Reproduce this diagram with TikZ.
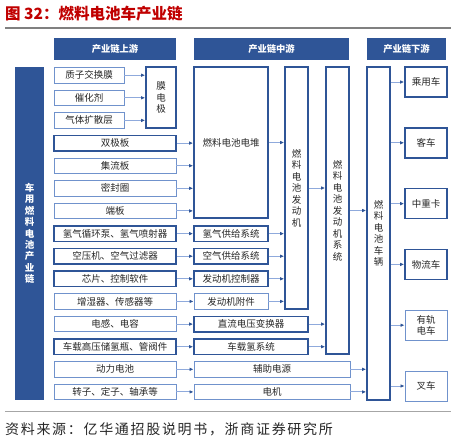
\documentclass[tikz,border=0pt]{standalone}
\usepackage{fontspec}
\setmainfont{Noto Sans CJK SC}
\usepackage{xcolor}
\usepackage{tikz}
\usetikzlibrary{arrows.meta,positioning}

\definecolor{chainblue}{RGB}{47,85,151}
\definecolor{edgeblue}{RGB}{112,146,204}
\definecolor{lineblue}{RGB}{143,170,220}
\definecolor{titlered}{RGB}{192,0,0}

\begin{document}
\begin{tikzpicture}[x=1pt, y=-1pt, >={Latex[length=4pt,width=3.6pt,color=chainblue]},
  box/.style={draw=edgeblue, line width=0.9pt, inner sep=0pt, minimum height=15.5pt,
    text=black!85, font=\fontsize{9.5}{11.5}\selectfont},
  boldbox/.style={box, draw=chainblue, line width=1.7pt},
  vbox/.style={boldbox, align=center, minimum width=23pt},
  head/.style={fill=chainblue, text=white, inner sep=0pt, minimum height=22pt,
    font=\fontsize{9.3}{11}\selectfont\bfseries},
  conn/.style={->, draw=lineblue, line width=0.9pt}]
  \useasboundingbox (0,0) rectangle (454,440);

  % title and rules
  \node[anchor=west, text=titlered, inner sep=0pt, font=\fontsize{15.5}{18}\selectfont\bfseries]
    (title) at (5,14) {图 32：燃料电池车产业链};
  \draw[gray, line width=1.5pt] (5,28) -- (451,28);
  \draw[black!35, line width=0.8pt] (5,411) -- (451,411);
  \node[anchor=west, inner sep=0pt, text=black!85, font=\fontsize{14}{16}\selectfont\addfontfeature{LetterSpace=12}]
    (source) at (5,429) {资料来源：亿华通招股说明书，浙商证券研究所};

  % headers
  \node[head, minimum width=122pt] (upstream) at (115,49) {产业链上游};
  \node[head, minimum width=155pt] (midstream) at (271.5,49) {产业链中游};
  \node[head, minimum width=79pt] (downstream) at (406.5,49) {产业链下游};

  \node[fill=chainblue, text=white, inner sep=0pt, minimum width=29pt, minimum height=333pt,
    align=center, font=\fontsize{9.5}{11.4}\selectfont\bfseries]
    (chainbar) at (29.5,233.5) {车\\用\\燃\\料\\电\\池\\产\\业\\链};

  % upstream
  \node[box, minimum width=70pt] (pem) at (89,75.2) {质子交换膜};
  \node[box, minimum width=70pt] (catalyst) at (89,97.8) {催化剂};
  \node[box, minimum width=70pt] (gdl) at (89,120.4) {气体扩散层};
  \node[boldbox, minimum width=30pt, minimum height=61pt, align=center] (mea) at (161,97.8) {膜\\电\\极};
  \node[boldbox, minimum width=122pt] (bipolar) at (115,143.1) {双极板};
  \node[box, minimum width=122pt] (collector) at (115,165.7) {集流板};
  \node[box, minimum width=122pt] (seal) at (115,188.3) {密封圈};
  \node[box, minimum width=122pt] (endplate) at (115,210.9) {端板};
  \node[boldbox, minimum width=122pt] (hpump) at (115,233.6) {氢气循环泵、氢气喷射器};
  \node[boldbox, minimum width=122pt] (compressor) at (115,256.2) {空压机、空气过滤器};
  \node[boldbox, minimum width=122pt] (chip) at (115,278.8) {芯片、控制软件};
  \node[box, minimum width=122pt] (humid) at (115,301.4) {增湿器、传感器等};
  \node[box, minimum width=122pt] (inductor) at (115,324.1) {电感、电容};
  \node[boldbox, minimum width=122pt] (tank) at (115,346.7) {车载高压储氢瓶、管阀件};
  \node[box, minimum width=122pt] (battery) at (115,369.3) {动力电池};
  \node[box, minimum width=122pt] (rotor) at (115,391.9) {转子、定子、轴承等};

  % midstream
  \node[boldbox, minimum width=74pt, minimum height=151pt] (stack) at (231,142.5) {燃料电池电堆};
  \node[boldbox, minimum width=74pt] (h2supply) at (231,233.6) {氢气供给系统};
  \node[boldbox, minimum width=74pt] (airsupply) at (231,256.2) {空气供给系统};
  \node[boldbox, minimum width=74pt] (ecu) at (231,278.8) {发动机控制器};
  \node[box, minimum width=74pt] (accessory) at (231,301.4) {发动机附件};
  \node[boldbox, minimum width=114pt] (dcdc) at (251,324.1) {直流电压变换器};
  \node[boldbox, minimum width=114pt] (h2onboard) at (251,346.7) {车载氢系统};
  \node[box, minimum width=156pt] (auxpower) at (272,369.3) {辅助电源};
  \node[box, minimum width=156pt] (motor) at (272,391.9) {电机};
  \node[vbox, minimum height=242pt] (engine) at (296.5,188) {燃\\料\\电\\池\\发\\动\\机};
  \node[vbox, minimum height=287pt] (enginesys) at (337.5,210.5) {燃\\料\\电\\池\\发\\动\\机\\系\\统};
  \node[vbox, minimum height=333pt] (vehicle) at (378.5,233.5) {燃\\料\\电\\池\\车\\辆};

  % downstream
  \node[boldbox, minimum width=42pt, minimum height=30pt] (car) at (426,82) {乘用车};
  \node[boldbox, minimum width=42pt, minimum height=30pt] (bus) at (426,142.8) {客车};
  \node[boldbox, minimum width=42pt, minimum height=30pt] (truck) at (426,203.6) {中重卡};
  \node[boldbox, minimum width=42pt, minimum height=30pt] (logistics) at (426,264.4) {物流车};
  \node[box, minimum width=42pt, minimum height=30pt, align=center] (tram) at (426,325.2) {有轨\\电车};
  \node[box, minimum width=42pt, minimum height=30pt] (forklift) at (426,386) {叉车};

  % connectors
  \foreach \part in {pem,catalyst,gdl}
    \draw[conn] (\part.east) -- (\part.east -| mea.west);
  \foreach \part in {bipolar,collector,seal,endplate}
    \draw[conn] (\part.east) -- (\part.east -| stack.west);
  \draw[conn] (hpump.east) -- (h2supply.west);
  \draw[conn] (compressor.east) -- (airsupply.west);
  \draw[conn] (chip.east) -- (ecu.west);
  \draw[conn] (humid.east) -- (accessory.west);
  \draw[conn] (inductor.east) -- (dcdc.west);
  \draw[conn] (tank.east) -- (h2onboard.west);
  \draw[conn] (battery.east) -- (auxpower.west);
  \draw[conn] (rotor.east) -- (motor.west);
  \foreach \part in {stack,h2supply,airsupply,ecu,accessory}
    \draw[conn] (\part.east) -- (\part.east -| engine.west);
  \foreach \part in {engine,dcdc,h2onboard}
    \draw[conn] (\part.east) -- (\part.east -| enginesys.west);
  \foreach \part in {enginesys,auxpower,motor}
    \draw[conn] (\part.east) -- (\part.east -| vehicle.west);
  \foreach \kind in {car,bus,truck,logistics,tram,forklift}
    \draw[conn] (\kind.west -| vehicle.east) -- (\kind.west);
\end{tikzpicture}
\end{document}
